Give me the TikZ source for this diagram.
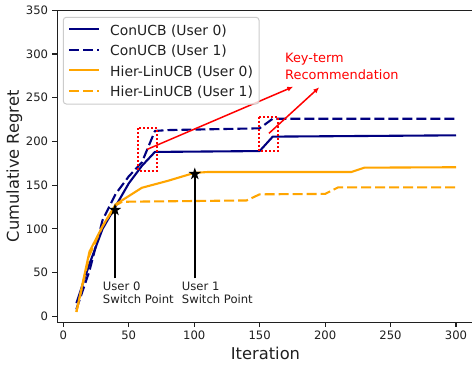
\documentclass[tikz,border=0pt]{standalone}
\usepackage{fontspec}
\setmainfont{DejaVu Sans}
\usetikzlibrary{shapes.geometric,arrows.meta}
\definecolor{navyc}{HTML}{000080}
\definecolor{orangec}{HTML}{FFA500}
\definecolor{spinec}{HTML}{202020}
\newcommand\tickfont{\fontsize{11.6}{13}\selectfont}
\newcommand\legfont{\fontsize{13.9}{16}\selectfont}
\newcommand\labfont{\fontsize{16.3}{19}\selectfont}
\newcommand\annfont{\fontsize{11.6}{13.3}\selectfont}
\newcommand\redfont{\fontsize{12.9}{16.6}\selectfont}
\begin{document}
\begin{tikzpicture}[x=1pt,y=-1pt,
  spine/.style={draw=spinec,line width=1.1pt},
  tickmark/.style={draw=spinec,line width=1.1pt},
  ticklab/.style={inner sep=0pt,font=\tickfont,text=spinec},
  curve/.style={line width=2.1pt,line join=round},
  dashcurve/.style={curve,dash pattern=on 10pt off 4pt},
  legbox/.style={draw=black!20,fill=white,fill opacity=0.8,line width=1pt,rounded corners=3pt},
  legtext/.style={inner sep=0pt,anchor=base west,font=\legfont,text=spinec},
  redbox/.style={draw=red,line width=2pt,dash pattern=on 2pt off 2pt},
  redarrow/.style={draw=red,line width=1.5pt,-{Latex[length=6pt,width=5pt]}},
  starmark/.style={star,star points=5,star point ratio=2.618,fill=black,inner sep=0pt,minimum size=13pt},
  annline/.style={draw=black,line width=1.5pt}]
\useasboundingbox (0,0) rectangle (472,367);
\fill[white] (0,0) rectangle (472,367);

% spines
\draw[spine] (472,10.3) -- (57.3,10.3) -- (57.3,322.3) -- (472,322.3);

% y ticks
\foreach \v in {0,50,...,350}{
  \draw[tickmark] (57.3,{316.3-0.8743*\v}) -- ++(-4.9,0);
  \node[ticklab,anchor=east] (yt\v) at (48.3,{316.3-0.8743*\v}) {\v};
}
% x ticks
\foreach \v in {0,50,...,300}{
  \draw[tickmark] ({63.3+1.309*\v},322.3) -- ++(0,4.9);
  \node[ticklab,anchor=north] (xt\v) at ({63.3+1.309*\v},330.6) {\v};
}
\node[inner sep=0pt,anchor=base,font=\labfont,text=spinec] (xlab) at (265.5,359.5) {Iteration};
\node[inner sep=0pt,anchor=base,rotate=90,font=\labfont,text=spinec] (ylab) at (19,166.3) {Cumulative Regret};

% data
\begin{scope}[shift={(63.3,316.3)},x=1.309pt,y=0.8743pt]
\draw[curve,navyc] (10,15) -- (20,60) -- (30,100) -- (40,126) -- (50,152) -- (60,172) -- (70,188) -- (150,189) -- (160,205.5) -- (300,207);
\draw[dashcurve,navyc] (10,8) -- (20,52) -- (30,110) -- (40,140) -- (50,160) -- (60,176) -- (70,212) -- (80,213) -- (150,215) -- (160,226) -- (300,226);
\draw[curve,orangec] (10,5) -- (20,74) -- (30,103) -- (40,128) -- (60,147) -- (80,155) -- (100,164) -- (110,165) -- (220,165) -- (230,170) -- (300,170.5);
\draw[dashcurve,orangec] (10,5) -- (20,70) -- (30,103) -- (40,127) -- (45,131) -- (140,132.5) -- (150,139.5) -- (200,140) -- (210,147.5) -- (300,147.5);
\end{scope}

% red boxes
\draw[redbox] (138.3,128.3) rectangle (156.7,171);
\draw[redbox] (259,116.7) rectangle (278,150.7);

% red arrows
\coordinate (a1s) at (147.3,149.3);
\coordinate (a1e) at (293.3,86.7);
\coordinate (a2s) at (269,133.3);
\coordinate (a2e) at (319.3,87.3);
\draw[redarrow] (a1s) -- (a1e);
\draw[redarrow] (a2s) -- (a2e);
\node[inner sep=0pt,anchor=base west,font=\redfont,text=red] (kt1) at (285,62.7) {Key-term};
\node[inner sep=0pt,anchor=base west,font=\redfont,text=red] (kt2) at (285,79.3) {Recommendation};

% switch points
\node[starmark] (s0) at (115,210) {};
\node[starmark] (s1) at (194.8,174) {};
\coordinate (l0) at (115,278.3);
\coordinate (l1) at (194.8,278.3);
\draw[annline] (l0) -- (s0.center);
\draw[annline] (l1) -- (s1.center);
\node[inner sep=0pt,anchor=north west,align=left,font=\annfont,text=spinec] (u0) at (102.7,281.5) {User 0\\Switch Point};
\node[inner sep=0pt,anchor=north west,align=left,font=\annfont,text=spinec] (u1) at (181.7,281.5) {User 1\\Switch Point};

% legend
\draw[legbox] (63.3,17.3) rectangle (259,104);
\draw[curve,navyc] (69,29.3) -- (99,29.3);
\draw[dashcurve,navyc] (69,49.8) -- (99,49.8);
\draw[curve,orangec] (69,70.3) -- (99,70.3);
\draw[dashcurve,orangec] (69,90.8) -- (99,90.8);
\node[legtext] (lg0) at (110,35.3) {ConUCB (User 0)};
\node[legtext] (lg1) at (110,55.8) {ConUCB (User 1)};
\node[legtext] (lg2) at (110,76.3) {Hier-LinUCB (User 0)};
\node[legtext] (lg3) at (110,96.8) {Hier-LinUCB (User 1)};
\end{tikzpicture}
\end{document}
